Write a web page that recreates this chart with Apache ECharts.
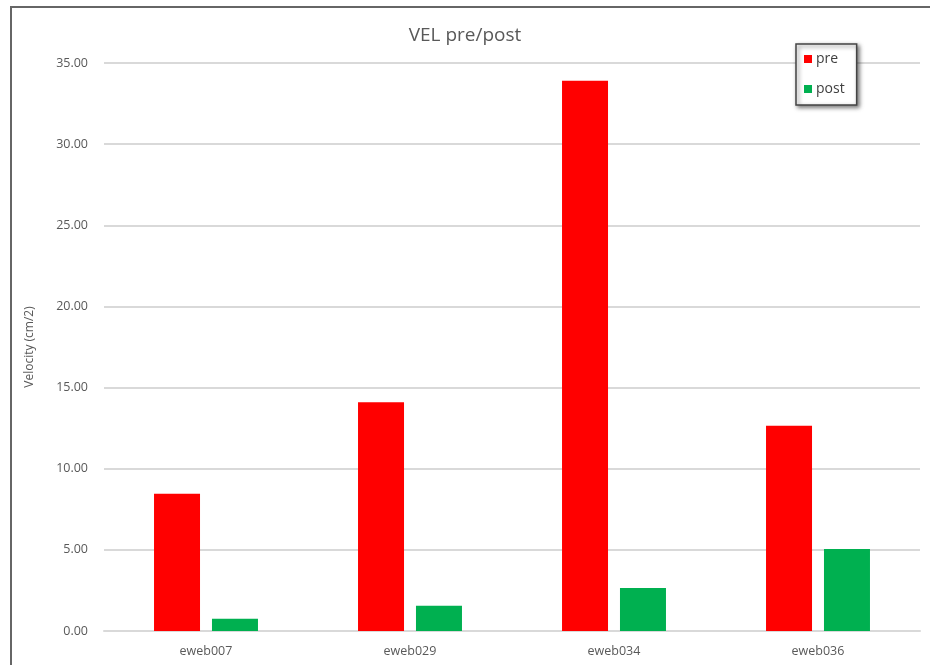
<!DOCTYPE html>
<html>
<head>
<meta charset="utf-8">
<script src="https://cdn.jsdelivr.net/npm/echarts@6/dist/echarts.min.js"></script>
<style>
  html, body { margin: 0; padding: 0; background: #fff; }
  #main { width: 930px; height: 665px; }
</style>
</head>
<body>
<div id="main"></div>
<script>
const categories = ['eweb007', 'eweb029', 'eweb034', 'eweb036']
const preValues = [8.45, 14.1, 33.9, 12.65]
const postValues = [0.75, 1.55, 2.65, 5.05]
const seriesNames = ['pre', 'post']

const chart = echarts.init(document.getElementById('main'))
chart.setOption({
  backgroundColor: '#fff',
  textStyle: { fontFamily: 'Open Sans' },
  // outer frame, only top and left edges fall inside the picture
  graphic: [{
    type: 'rect',
    shape: { x: 11, y: 7, width: 1000, height: 1000 },
    style: { fill: 'none', stroke: '#666', lineWidth: 2 },
    z: 10
  }],
  title: {
    text: 'VEL pre/post',
    left: 'center',
    top: 21,
    textStyle: { color: '#595959', fontSize: 19, fontWeight: 'normal', fontFamily: 'Open Sans' }
  },
  legend: {
    data: seriesNames,
    orient: 'vertical',
    left: 796,
    top: 44,
    itemWidth: 8,
    itemHeight: 8,
    itemGap: 16,
    padding: [8, 12, 9, 8],
    borderColor: '#444',
    borderWidth: 1.5,
    backgroundColor: '#fff',
    shadowColor: 'rgba(0,0,0,0.5)',
    shadowBlur: 4,
    shadowOffsetX: 2,
    shadowOffsetY: 2,
    icon: 'rect',
    textStyle: { color: '#404040', fontSize: 14, padding: [0, 0, 0, -1] }
  },
  grid: {
    left: 104,
    right: 10,
    top: 63,
    bottom: 34
  },
  xAxis: {
    type: 'category',
    data: categories,
    axisLine: { lineStyle: { color: '#d9d9d9', width: 2 } },
    axisTick: { show: false },
    axisLabel: { color: '#595959', fontSize: 12.5, margin: 14 }
  },
  yAxis: {
    type: 'value',
    min: 0,
    max: 35,
    interval: 5,
    name: 'Velocity (cm/2)',
    nameLocation: 'middle',
    nameGap: 68,
    nameTextStyle: { color: '#595959', fontSize: 12 },
    axisLine: { show: false },
    axisTick: { show: false },
    axisLabel: {
      color: '#595959',
      fontSize: 12.5,
      margin: 16,
      formatter: v => v.toFixed(2)
    },
    splitLine: { lineStyle: { color: '#d9d9d9', width: 2 } }
  },
  series: [
    {
      name: seriesNames[0],
      type: 'bar',
      data: preValues,
      barWidth: 46,
      barGap: '26%',
      itemStyle: { color: '#ff0000' }
    },
    {
      name: seriesNames[1],
      type: 'bar',
      data: postValues,
      barWidth: 46,
      itemStyle: { color: '#00b050' }
    }
  ]
})
</script>
</body>
</html>
